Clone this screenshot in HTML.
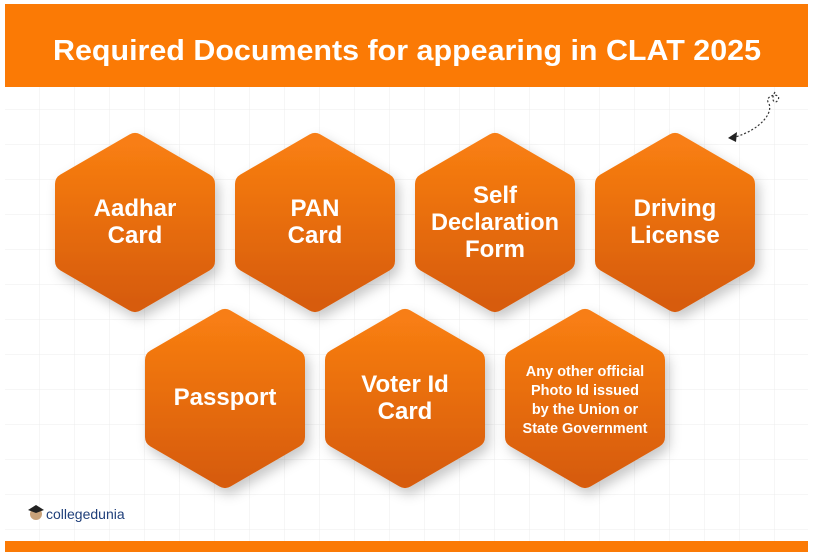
<!DOCTYPE html>
<html><head><meta charset="utf-8"><style>
html,body{margin:0;padding:0;background:#fff}
body{width:814px;height:552px;overflow:hidden;position:relative;font-family:"Liberation Sans",sans-serif}
</style></head><body>
<svg width="814" height="552" viewBox="0 0 814 552" xmlns="http://www.w3.org/2000/svg" style="position:absolute;left:0;top:0">
<defs>
<pattern id="grid" width="35" height="35" patternUnits="userSpaceOnUse" x="5" y="5">
<path d="M35 0V35M0 35H35" stroke="#ececec" stroke-width="1" fill="none"/>
</pattern>
<linearGradient id="g" x1="0" y1="0" x2="0" y2="1">
<stop offset="0" stop-color="#f87e12"/><stop offset="1" stop-color="#d75c0b"/>
</linearGradient>
<filter id="sh" x="-30%" y="-30%" width="160%" height="160%"><feDropShadow dx="4" dy="6" stdDeviation="6" flood-color="#000" flood-opacity="0.22"/></filter>
</defs>
<rect x="5" y="87" width="803" height="455" fill="url(#grid)"/>
<rect x="5" y="4" width="803" height="83" fill="#fb7a05"/>
<text x="407" y="60" text-anchor="middle" font-size="29" font-weight="bold" fill="#fff" font-family="Liberation Sans Narrow, Liberation Sans, sans-serif" textLength="708" lengthAdjust="spacingAndGlyphs">Required Documents for appearing in CLAT 2025</text>
<rect x="5" y="541" width="803" height="11" fill="#fb7a05"/>
<g filter="url(#sh)" fill="url(#g)" stroke="url(#g)" stroke-width="22" stroke-linejoin="round">
<polygon points="135,144 204,184 204,261 135,301 66,261 66,184"/>
<polygon points="315,144 384,184 384,261 315,301 246,261 246,184"/>
<polygon points="495,144 564,184 564,261 495,301 426,261 426,184"/>
<polygon points="675,144 744,184 744,261 675,301 606,261 606,184"/>
<polygon points="225,320 294,360 294,437 225,477 156,437 156,360"/>
<polygon points="405,320 474,360 474,437 405,477 336,437 336,360"/>
<polygon points="585,320 654,360 654,437 585,477 516,437 516,360"/>
</g>
<g fill="#fff" font-weight="bold" font-size="24" text-anchor="middle" font-family="Liberation Sans Narrow, Liberation Sans, sans-serif">
<text x="135" y="216">Aadhar</text><text x="135" y="243">Card</text>
<text x="315" y="216">PAN</text><text x="315" y="243">Card</text>
<text x="495" y="203">Self</text><text x="495" y="230" textLength="128" lengthAdjust="spacingAndGlyphs">Declaration</text><text x="495" y="257">Form</text>
<text x="675" y="216">Driving</text><text x="675" y="243">License</text>
<text x="225" y="405">Passport</text>
<text x="405" y="392">Voter Id</text><text x="405" y="419">Card</text>
</g>
<g fill="#fff" font-weight="bold" font-size="14.5" text-anchor="middle" font-family="Liberation Sans Narrow, Liberation Sans, sans-serif">
<text x="585" y="376">Any other official</text>
<text x="585" y="395">Photo Id issued</text>
<text x="585" y="414">by the Union or</text>
<text x="585" y="433">State Government</text>
</g>
<path d="M775 92 C770 100 775 105 778 100 C782 92 765 95 768 102 C775 112 760 130 735 137" fill="none" stroke="#333" stroke-width="1.2" stroke-dasharray="2,2"/>
<polygon points="728,138 737,132 736,142" fill="#222"/>
<circle cx="36" cy="514" r="6" fill="#c9a27a"/>
<path d="M28 510 L36 505 L44 510 L36 513Z" fill="#222"/>
<text x="46" y="519" font-size="14" fill="#1f3f7a" font-family="Liberation Sans Narrow, Liberation Sans, sans-serif">collegedunia</text>
</svg>
</body></html>
